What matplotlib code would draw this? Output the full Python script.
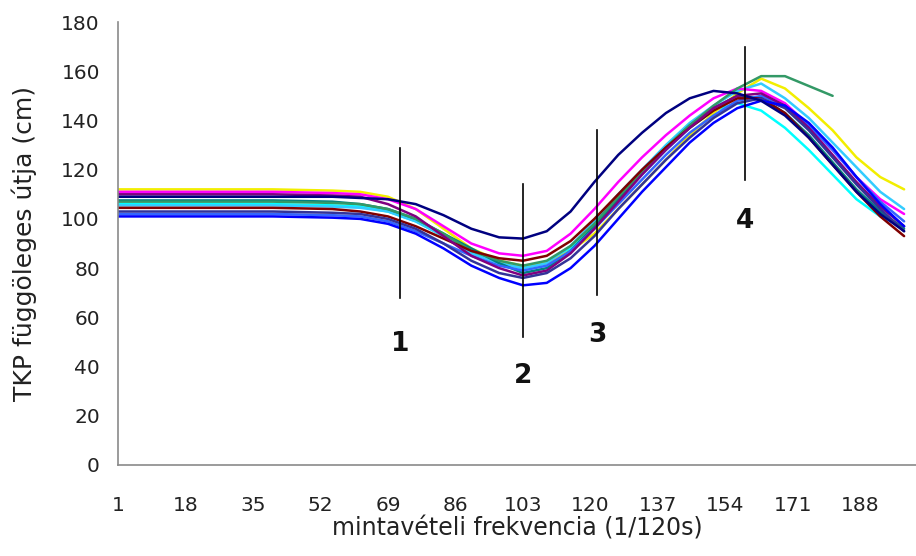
import numpy as np
import matplotlib
matplotlib.use("Agg")
import matplotlib.pyplot as plt

# sampling positions (1/120 s frames)
frames = [1, 20, 40, 55, 62, 69, 76, 83, 90, 97, 103, 109, 115, 121, 127, 133,
          139, 145, 151, 157, 163, 169, 175, 181, 187, 193, 199]

# vertical path of the body centre of mass (cm), one list per trial
navy     = [109, 109, 109, 109, 108.5, 108, 106, 101.5, 96, 92.5, 92, 95, 103, 115, 126, 135,
            143, 149, 152, 151, 148, 142, 133, 122, 111, 102, 95]
magenta  = [111, 111, 111, 110.5, 110, 108, 104, 97, 90, 86, 85, 87, 94, 104, 115, 125,
            134, 142, 149, 153, 152, 147, 138, 128, 117, 108, 102]
yellow   = [112, 112, 112, 111.5, 111, 109, 104, 96, 88, 83, 81, 82, 87, 94, 104, 114,
            124, 134, 143, 151, 157, 153, 145, 136, 125, 117, 112]
sky      = [105.5, 105.5, 105.5, 105, 104.5, 103, 99, 93, 86, 82, 80, 82, 89, 99, 110, 120,
            130, 139, 146, 152, 155, 149, 141, 131, 121, 111, 104]
teal     = [107.5, 107.5, 107.5, 107, 106, 104, 100, 94, 88, 82, 78, 80, 87, 97, 108, 119,
            129, 138, 145, 150, 149, 143, 134, 123, 112, 103, 96]
purple   = [110, 110, 110, 109.5, 109, 106, 101, 93, 85, 80, 77, 79, 86, 96, 107, 118,
            128, 137, 145, 150, 151, 146, 137, 126, 115, 105, 97]
green    = [107, 107, 107, 106.5, 106, 104, 100, 94, 87, 83, 81, 83, 89, 98, 109, 119,
            129, 138, 146, 153, 158, 158, 154, 150, np.nan, np.nan, np.nan]
darkred  = [104.5, 104.5, 104.5, 104, 103, 101, 97, 92, 87, 84, 83, 85, 91, 100, 110, 120,
            129, 137, 144, 149, 149, 143, 133, 122, 111, 101, 93]
cyan     = [106, 106, 106, 105.5, 105, 103, 99, 93, 87, 82, 80, 82, 88, 97, 108, 118,
            128, 137, 144, 147, 144, 137, 128, 118, 108, 101, 97]
darkblue = [103, 103, 103, 102.5, 102, 100, 96, 90, 83, 78, 76, 78, 84, 93, 104, 114,
            124, 133, 141, 147, 149, 145, 136, 125, 114, 104, 95]
royal    = [102, 102, 102, 101.5, 101, 99, 95, 90, 85, 81, 79, 81, 87, 96, 106, 116,
            126, 135, 142, 148, 150, 146, 138, 128, 117, 107, 99]
blue     = [101, 101, 101, 100.5, 100, 98, 94, 88, 81, 76, 73, 74, 80, 89, 100, 111,
            121, 131, 139, 145, 148, 146, 139, 129, 117, 106, 97]

series = [
    (cyan, "#00FFFF"), (yellow, "#F2EE00"), (sky, "#33CCFF"), (magenta, "#FF00FF"),
    (teal, "#008080"), (green, "#339966"), (royal, "#3366FF"), (darkred, "#800000"),
    (purple, "#800080"), (darkblue, "#333399"), (blue, "#0000FF"), (navy, "#000080"),
]

# phase markers
phase_names = ["1", "2", "3", "4"]
phase_x = [72, 103, 121.7, 159]
phase_lo = [68, 52, 69, 116]
phase_hi = [129, 114, 136, 170]
phase_label_y = [49, 36, 53, 99]

xticks = [1, 18, 35, 52, 69, 86, 103, 120, 137, 154, 171, 188]

plt.rcParams['font.family'] = ['DejaVu Sans']

fig = plt.figure(figsize=(9.16, 5.56), dpi=100)
ax = fig.add_axes([0.1288, 0.1637, 0.8712, 0.7967])

for vals, col in series:
    ax.plot(frames, vals, color=col, lw=1.8, solid_capstyle='round', solid_joinstyle='round')

for name, x, lo, hi, ly in zip(phase_names, phase_x, phase_lo, phase_hi, phase_label_y):
    ax.plot([x, x], [lo, hi], color='black', lw=1.2)
    ax.text(x, ly, name, ha='center', va='center', fontsize=19, fontweight='bold',
            color='#111111')

ax.set_xlim(1, 202)
ax.set_ylim(0, 180)
ax.set_xticks(xticks)
ax.set_yticks(range(0, 181, 20))
ax.tick_params(axis='both', length=0, labelsize=14.5, colors='#222222')
ax.tick_params(axis='x', pad=22)
ax.tick_params(axis='y', pad=13)

for s in ['top', 'right']:
    ax.spines[s].set_visible(False)
for s in ['left', 'bottom']:
    ax.spines[s].set_color('#8a8a8a')
    ax.spines[s].set_linewidth(1.2)

ax.set_xlabel('mintavételi frekvencia (1/120s)', fontsize=17, color='#222222')
ax.set_ylabel('TKP függöleges útja (cm)', fontsize=18, color='#222222')
ax.xaxis.set_label_coords(0.5, -0.117)
ax.yaxis.set_label_coords(-0.1015, 0.5)

fig.savefig('out.png', dpi=100)
